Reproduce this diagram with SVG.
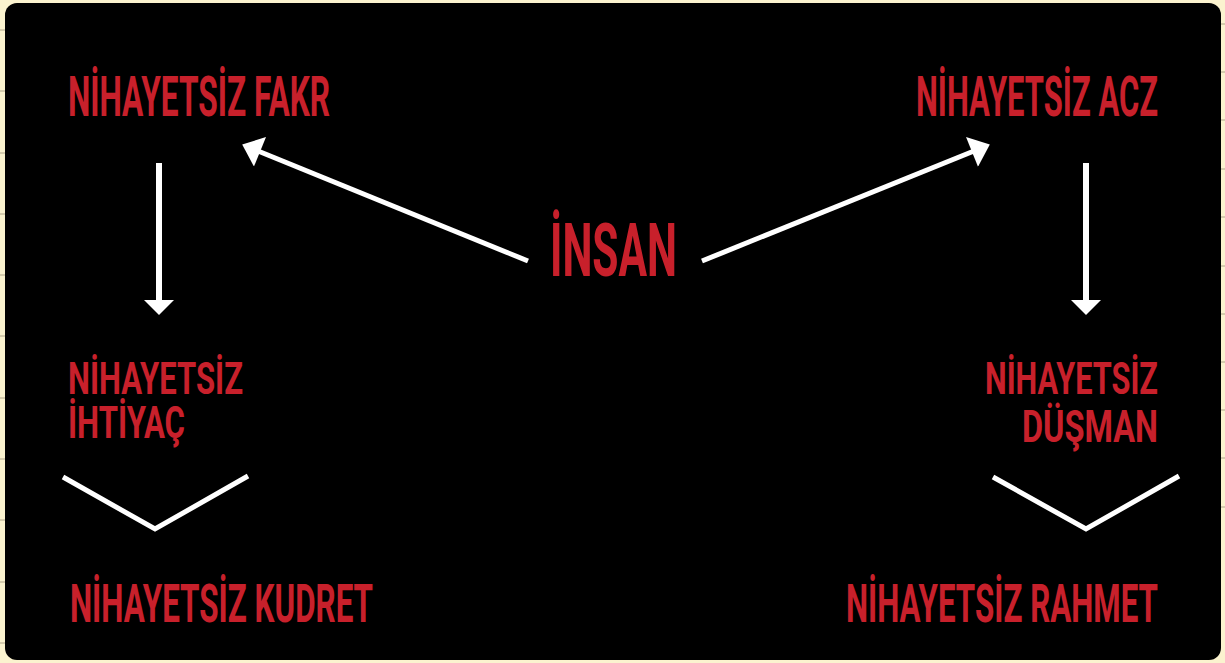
<svg xmlns="http://www.w3.org/2000/svg" width="1225" height="663" viewBox="0 0 1225 663">
  <style>
    .t { font-family: Roboto, "Liberation Sans", sans-serif; font-weight: 700; fill: #c8202b; }
    .ln { stroke: #ffffff; stroke-width: 5; fill: none; }
    .tick { stroke: #aea58a; stroke-width: 1; }
  </style>
  <defs>
    <marker id="ah" markerUnits="userSpaceOnUse" markerWidth="32" markerHeight="32" viewBox="0 0 18 30" refX="2" refY="15" orient="auto">
      <path d="M0,0 L18,15 L0,30 Z" fill="#ffffff"/>
    </marker>
  </defs>
  <rect x="0" y="0" width="1225" height="663" fill="#fbf3cf"/>
  <g id="ticks">
    <line class="tick" x1="0" y1="30" x2="6" y2="30"/>
    <line class="tick" x1="0" y1="91" x2="6" y2="91"/>
    <line class="tick" x1="0" y1="153" x2="6" y2="153"/>
    <line class="tick" x1="0" y1="214" x2="6" y2="214"/>
    <line class="tick" x1="0" y1="275" x2="6" y2="275"/>
    <line class="tick" x1="0" y1="336" x2="6" y2="336"/>
    <line class="tick" x1="0" y1="398" x2="6" y2="398"/>
    <line class="tick" x1="0" y1="459" x2="6" y2="459"/>
    <line class="tick" x1="0" y1="520" x2="6" y2="520"/>
    <line class="tick" x1="0" y1="582" x2="6" y2="582"/>
    <line class="tick" x1="0" y1="643" x2="6" y2="643"/>
    <line class="tick" x1="1219" y1="24" x2="1225" y2="24"/>
    <line class="tick" x1="1219" y1="72" x2="1225" y2="72"/>
    <line class="tick" x1="1219" y1="120" x2="1225" y2="120"/>
    <line class="tick" x1="1219" y1="169" x2="1225" y2="169"/>
    <line class="tick" x1="1219" y1="217" x2="1225" y2="217"/>
    <line class="tick" x1="1219" y1="266" x2="1225" y2="266"/>
    <line class="tick" x1="1219" y1="314" x2="1225" y2="314"/>
    <line class="tick" x1="1219" y1="362" x2="1225" y2="362"/>
    <line class="tick" x1="1219" y1="410" x2="1225" y2="410"/>
    <line class="tick" x1="1219" y1="458" x2="1225" y2="458"/>
    <line class="tick" x1="1219" y1="507" x2="1225" y2="507"/>
  </g>
  <rect x="5" y="3" width="1216" height="657" rx="12" ry="12" fill="#000000"/>

  <g id="connectors">
    <line class="ln" x1="528" y1="261" x2="258" y2="151" marker-end="url(#ah)"/>
    <line class="ln" x1="702" y1="261" x2="974" y2="151" marker-end="url(#ah)"/>
    <line class="ln" x1="159" y1="163" x2="159" y2="302" style="stroke-width:6"/>
    <polygon points="144,300 174,300 159,315" fill="#ffffff"/>
    <line class="ln" x1="1086" y1="163" x2="1086" y2="302" style="stroke-width:6"/>
    <polygon points="1071,300 1101,300 1086,315" fill="#ffffff"/>
    <polyline class="ln" points="63,477 155,529 248,476"/>
    <polyline class="ln" points="993,477 1086,529 1179,476"/>
  </g>

  <g id="insan"><text class="t" x="550" y="276" font-size="75" textLength="127" lengthAdjust="spacingAndGlyphs">İNSAN</text></g>
  <g id="fakr"><text class="t" x="68" y="116" font-size="56" textLength="262" lengthAdjust="spacingAndGlyphs">NİHAYETSİZ FAKR</text></g>
  <g id="acz"><text class="t" x="916" y="116" font-size="56" textLength="242" lengthAdjust="spacingAndGlyphs">NİHAYETSİZ ACZ</text></g>
  <g id="ihtiyac">
    <text class="t" x="68" y="394" font-size="45" textLength="175" lengthAdjust="spacingAndGlyphs">NİHAYETSİZ</text>
    <text class="t" x="68" y="438" font-size="45" textLength="117" lengthAdjust="spacingAndGlyphs">İHTİYAÇ</text>
  </g>
  <g id="dusman">
    <text class="t" x="985" y="394" font-size="45" textLength="173" lengthAdjust="spacingAndGlyphs">NİHAYETSİZ</text>
    <text class="t" x="1022" y="442" font-size="45" textLength="136" lengthAdjust="spacingAndGlyphs">DÜŞMAN</text>
  </g>
  <g id="kudret"><text class="t" x="70" y="622" font-size="53" textLength="303" lengthAdjust="spacingAndGlyphs">NİHAYETSİZ KUDRET</text></g>
  <g id="rahmet"><text class="t" x="846" y="622" font-size="53" textLength="312" lengthAdjust="spacingAndGlyphs">NİHAYETSİZ RAHMET</text></g>
</svg>
